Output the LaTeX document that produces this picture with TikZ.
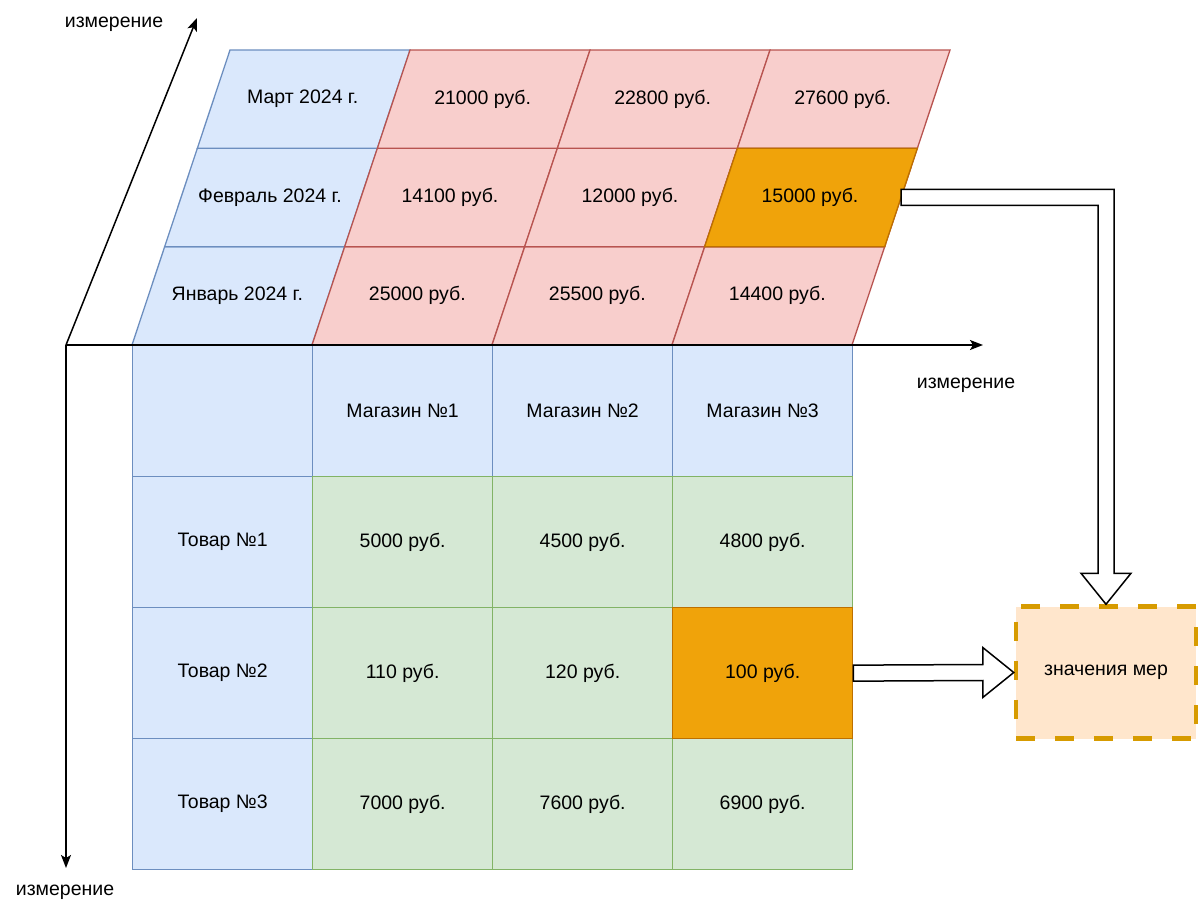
\documentclass[tikz,border=0pt]{standalone}
\usepackage{fontspec}
\setmainfont{Liberation Sans}
\usetikzlibrary{arrows.meta,calc}

\definecolor{hdrFill}{HTML}{DAE8FC}
\definecolor{hdrLine}{HTML}{6C8EBF}
\definecolor{topFill}{HTML}{F8CECC}
\definecolor{topLine}{HTML}{B85450}
\definecolor{valFill}{HTML}{D5E8D4}
\definecolor{valLine}{HTML}{82B366}
\definecolor{hotFill}{HTML}{F0A30A}
\definecolor{hotLine}{HTML}{BD7000}
\definecolor{measFill}{HTML}{FFE6CC}
\definecolor{measLine}{HTML}{D79B00}

\tikzset{
  txt/.style={font=\fontsize{19.5}{23}\selectfont},
  cell/.style={txt,draw,line width=1.3pt,minimum width=180pt,minimum height=131pt,
    anchor=north west,inner sep=0pt},
  hdr/.style={fill=hdrFill,draw=hdrLine},
  val/.style={fill=valFill,draw=valLine},
  hot/.style={fill=hotFill,draw=hotLine},
  topcell/.style={line width=1.3pt,fill=topFill,draw=topLine},
  axis/.style={line width=1.5pt,-{Stealth[length=13pt,width=10pt,inset=3pt]}},
  blockarrow/.style={line width=1.5pt,draw=black,fill=white,line join=miter},
}

\begin{document}
\begin{tikzpicture}[x=1pt,y=-1pt]
  \useasboundingbox (0,0) rectangle (1200,917);

  % top face, months
  \foreach \lbl/\va/\vb/\vc [count=\r from 0] in
      {Январь 2024 г./25000/25500/14400,
       Февраль 2024 г./14100/12000/15000,
       Март 2024 г./21000/22800/27600} {
    \path[topcell,hdr] (132+32.67*\r,345-98.33*\r) -- ++(180,0) -- ++(32.67,-98.33)
      -- ++(-180,0) -- cycle;
    \node[txt] (t\r0) at (221+32.67*\r+16.33,345-98.33*\r-49.17) {\lbl};
    \foreach \v [count=\c] in {\va,\vb,\vc} {
      \path[topcell] (132+180*\c+32.67*\r,345-98.33*\r) -- ++(180,0) -- ++(32.67,-98.33)
        -- ++(-180,0) -- cycle;
      \node[txt] (t\r\c) at (221+180*\c+32.67*\r+16.33,345-98.33*\r-49.17) {\v{} руб.};
    }
  }
  \path[topcell,hot] (672+32.67,246.67) -- ++(180,0) -- ++(32.67,-98.33)
    -- ++(-180,0) -- cycle;
  \node[txt] (t13) at (810,197.5) {15000 руб.};

  % front face, shops and goods
  \foreach \lbl [count=\c from 0] in {{},Магазин №1,Магазин №2,Магазин №3}
    \node[cell,hdr] (f0\c) at (132+180*\c,345) {\lbl};
  \foreach \lbl/\va/\vb/\vc [count=\r] in
      {Товар №1/5000/4500/4800,
       Товар №2/110/120/100,
       Товар №3/7000/7600/6900} {
    \node[cell,hdr] (f\r0) at (132,345+131*\r) {\lbl};
    \foreach \v [count=\c] in {\va,\vb,\vc}
      \node[cell,val] (f\r\c) at (132+180*\c,345+131*\r) {\v{} руб.};
  }
  \node[cell,hot] (f23) at (672,607) {100 руб.};

  % axes
  \coordinate (o) at (66,345);
  \coordinate (ax) at (983,345);
  \coordinate (ay) at (197,18);
  \coordinate (az) at (66,868);
  \draw[axis] (o) -- (ay);
  \draw[axis] (o) -- (ax);
  \draw[axis] (o) -- (az);
  \node[txt] (ly) at (114,24) {измерение};
  \node[txt] (lx) at (966,385) {измерение};
  \node[txt] (lz) at (65,892) {измерение};

  % measures
  \node[txt,fill=measFill,draw=measLine,line width=4.5pt,dash pattern=on 19pt off 20pt,
    minimum width=180pt,minimum height=132pt] (meas) at (1106,672.5) {значения мер};

  \coordinate (s) at ($(t13)+(91,0)$);
  \draw[blockarrow] ($(s)+(0,-8)$) -| ($(meas.north)+(8,-31)$) -- ++(17,0)
    -- (meas.north) -- ++(-25,-31) -- ++(17,0) |- ($(s)+(0,8)$) -- cycle;
  \draw[blockarrow] ($(f23.east)+(0,-8)$) -- ($(meas.west)+(-31,-8)$) -- ++(0,-17)
    -- (meas.west) -- ++(-31,25) -- ++(0,-17) -- ($(f23.east)+(0,8)$) -- cycle;
\end{tikzpicture}
\end{document}
